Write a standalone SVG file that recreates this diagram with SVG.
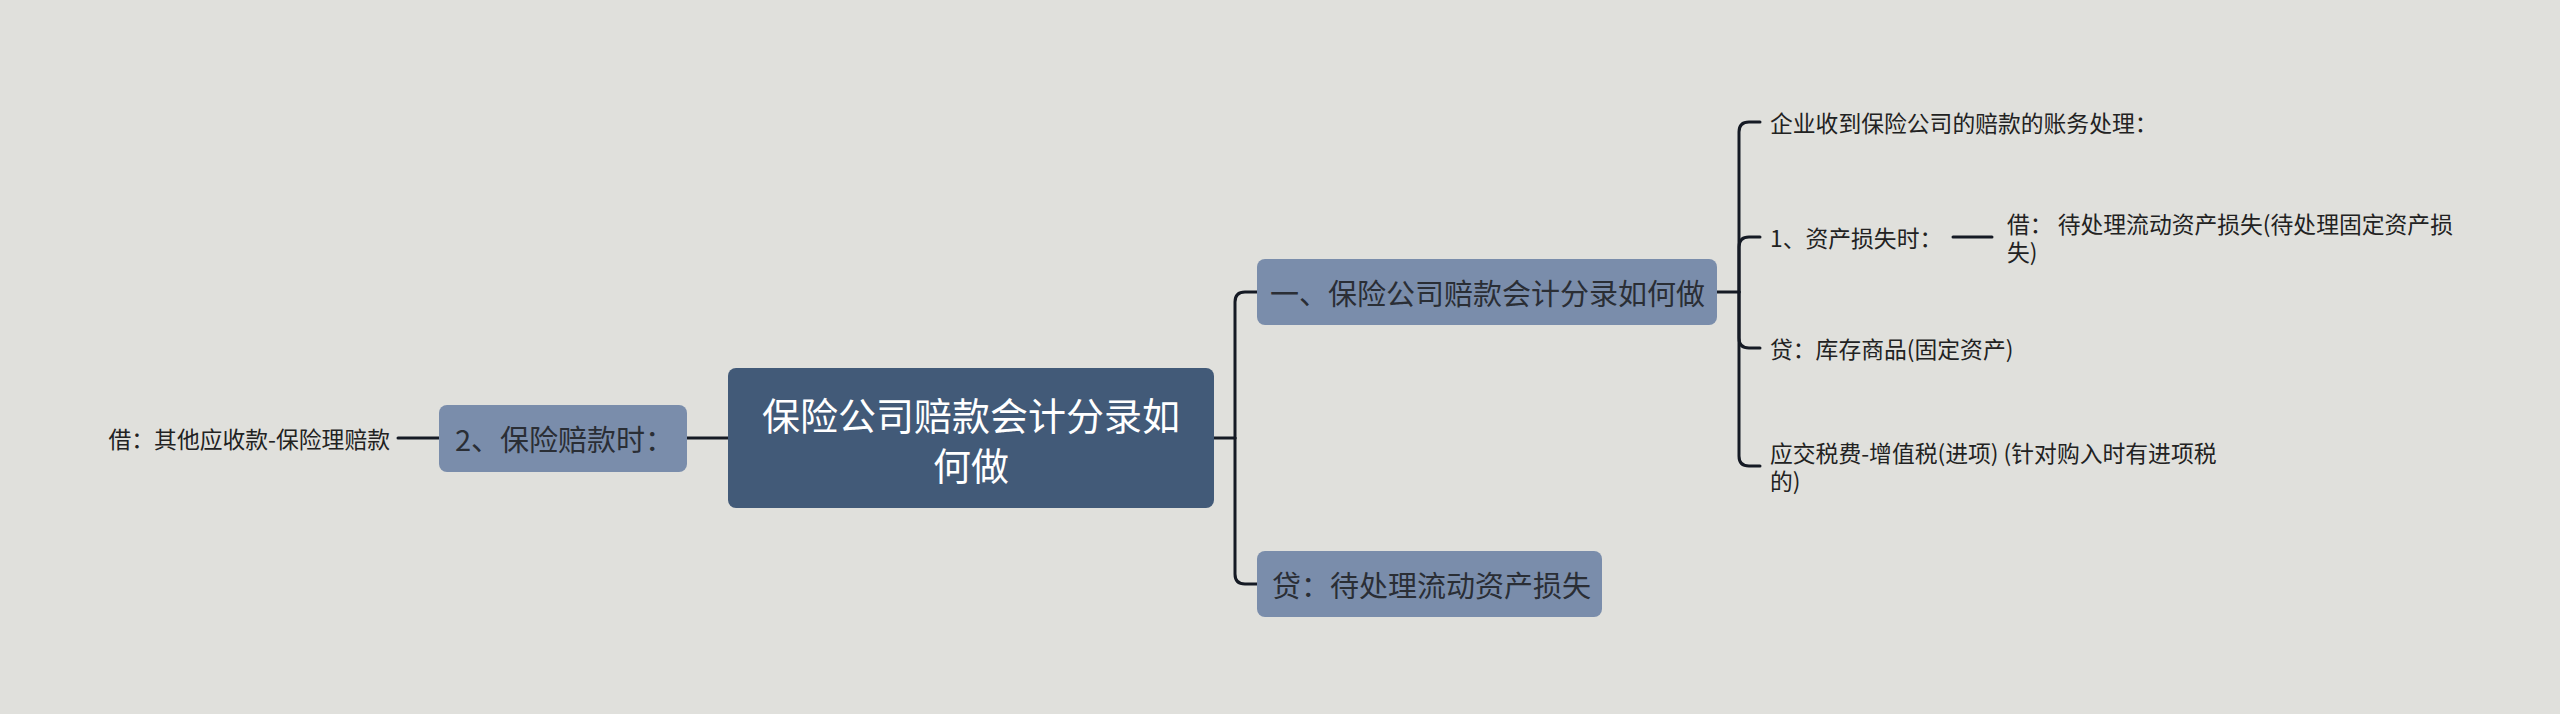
<svg xmlns="http://www.w3.org/2000/svg" width="2560" height="714" viewBox="0 0 2560 714">
<style>
text{font-family:"Noto Sans CJK SC","Noto Sans",sans-serif;dominant-baseline:central}
.root{fill:#425a78}
.main{fill:#7a8dab}
.rt{fill:#ffffff;font-size:38px}
.mt{fill:#2a2e35;font-size:29px}
.lt{fill:#222222;font-size:22.8px}
.conn path{fill:none;stroke:#151a24;stroke-width:3;stroke-linecap:round}
</style>
<rect x="0" y="0" width="2560" height="714" fill="#e0e0dc"/>
<g class="conn">
<path d="M398 438 H439"/>
<path d="M687 438 H728"/>
<path d="M1214 438 H1235"/>
<path d="M1235 438 V302 Q1235 292 1245 292 H1257"/>
<path d="M1235 438 V574 Q1235 584 1245 584 H1257"/>
<path d="M1717 292 H1739"/>
<path d="M1739 292 V132 Q1739 122 1749 122 H1760"/>
<path d="M1739 292 V247 Q1739 237 1749 237 H1760"/>
<path d="M1739 292 V338 Q1739 348 1749 348 H1760"/>
<path d="M1739 292 V456 Q1739 466 1749 466 H1760"/>
<path d="M1953 237 H1992"/>
</g>
<g id="root">
<rect class="root" x="728" y="368" width="486" height="140" rx="8"/>
<text class="rt" text-anchor="middle"><tspan x="971" y="413">保险公司赔款会计分录如</tspan><tspan x="971" y="463">何做</tspan></text>
</g>
<g id="n-left">
<rect class="main" x="439" y="405" width="248" height="67" rx="8"/>
<text class="mt" x="455" y="438">2、保险赔款时：</text>
</g>
<g id="n-left-leaf">
<text class="lt" x="390" y="438" text-anchor="end">借：其他应收款-保险理赔款</text>
</g>
<g id="n1">
<rect class="main" x="1257" y="259" width="460" height="66" rx="8"/>
<text class="mt" x="1270" y="292">一、保险公司赔款会计分录如何做</text>
</g>
<g id="n2">
<rect class="main" x="1257" y="551" width="345" height="66" rx="8"/>
<text class="mt" x="1272" y="584">贷：待处理流动资产损失</text>
</g>
<g id="c1">
<text class="lt" x="1770" y="122">企业收到保险公司的赔款的账务处理：</text>
</g>
<g id="c2">
<text class="lt" x="1770" y="237">1、资产损失时：</text>
</g>
<g id="c2a">
<text class="lt"><tspan x="2007" y="223">借： 待处理流动资产损失(待处理固定资产损</tspan><tspan x="2007" y="251">失)</tspan></text>
</g>
<g id="c3">
<text class="lt" x="1770" y="348">贷：库存商品(固定资产)</text>
</g>
<g id="c4">
<text class="lt"><tspan x="1770" y="452">应交税费-增值税(进项) (针对购入时有进项税</tspan><tspan x="1770" y="480">的)</tspan></text>
</g>
</svg>
